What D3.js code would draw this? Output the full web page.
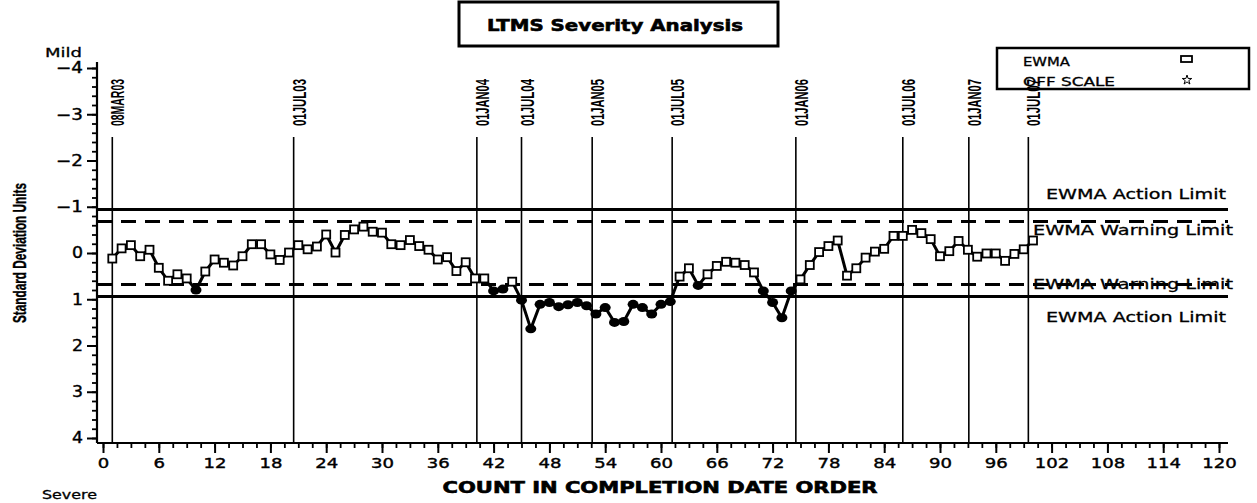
<!DOCTYPE html>
<html>
<head>
<meta charset="utf-8">
<script src="https://cdn.jsdelivr.net/npm/d3@7"></script>
<style>
  body { margin: 0; background: #fff; }
  svg { display: block; }
</style>
</head>
<body>
<div id="chart"></div>
<script>
// EWMA values by count in completion date order (positive = severe side)
const counts = d3.range(1, 101);
const ewma = [
  0.12, -0.10, -0.17, 0.07, -0.07, 0.32, 0.60, 0.46, 0.55, 0.80,
  0.40, 0.14, 0.21, 0.27, 0.07, -0.19, -0.19, 0.03, 0.15, -0.01,
  -0.17, -0.08, -0.14, -0.40, -0.01, -0.39, -0.51, -0.57, -0.46, -0.44,
  -0.19, -0.17, -0.28, -0.15, -0.07, 0.14, 0.09, 0.39, 0.20, 0.55,
  0.55, 0.82, 0.78, 0.62, 1.02, 1.64, 1.11, 1.07, 1.16, 1.12,
  1.07, 1.14, 1.32, 1.18, 1.50, 1.48, 1.11, 1.18, 1.32, 1.11,
  1.05, 0.51, 0.33, 0.70, 0.46, 0.28, 0.19, 0.21, 0.26, 0.42,
  0.82, 1.07, 1.40, 0.82, 0.57, 0.26, -0.02, -0.15, -0.27, 0.49,
  0.33, 0.10, -0.03, -0.09, -0.37, -0.37, -0.50, -0.43, -0.30, 0.07,
  -0.04, -0.26, -0.07, 0.08, 0.01, 0.01, 0.17, 0.02, -0.08, -0.27
];

// date reference lines
const dateLabels = ["08MAR03", "01JUL03", "01JAN04", "01JUL04", "01JAN05",
                    "01JUL05", "01JAN06", "01JUL06", "01JAN07", "01JUL07"];
const dateCounts = [1, 20.5, 40.2, 45, 52.6, 61.2, 74.5, 86, 93.1, 99.5];

// limits
const limitNames = ["EWMA Action Limit", "EWMA Warning Limit", "EWMA Warning Limit", "EWMA Action Limit"];
const limitValues = [-0.94, -0.68, 0.68, 0.94];

const xTicks = d3.range(0, 121, 6);
const xMinor = d3.range(0, 120.1, 1.5);
const yTicks = d3.range(-4, 5, 1);
const yMinor = d3.range(-4, 4.01, 0.2);

const width = 1257, height = 503;
const font = "'DejaVu Sans', sans-serif";
const narrow = "'Liberation Sans', sans-serif";

const svg = d3.select('#chart').append('svg')
    .attr('width', width)
    .attr('height', height);

const x = d3.scaleLinear().domain([0, 120]).range([103, 1219]);
const y = d3.scaleLinear().domain([-4, 4]).range([68, 438]);

const axisX0 = 97, axisY0 = 443, axisRight = 1228, axisTop = 62;

// title box
svg.append('rect')
    .attr('x', 459).attr('y', 2).attr('width', 319).attr('height', 44)
    .attr('fill', 'none').attr('stroke', '#000').attr('stroke-width', 3);
svg.append('text')
    .attr('x', 615).attr('y', 31)
    .attr('text-anchor', 'middle')
    .attr('font-family', font).attr('font-weight', 900).attr('font-size', 16)
    .attr('stroke', '#000').attr('stroke-width', 0.6)
    .attr('textLength', 256).attr('lengthAdjust', 'spacingAndGlyphs')
    .text('LTMS Severity Analysis');

// legend
svg.append('rect')
    .attr('x', 997).attr('y', 48).attr('width', 252).attr('height', 41)
    .attr('fill', 'none').attr('stroke', '#000').attr('stroke-width', 2.5);
svg.append('text')
    .attr('x', 1023).attr('y', 66)
    .attr('font-family', font).attr('font-size', 12)
    .attr('stroke', '#000').attr('stroke-width', 0.3)
    .attr('textLength', 47).attr('lengthAdjust', 'spacingAndGlyphs')
    .text('EWMA');
svg.append('text')
    .attr('x', 1023).attr('y', 86)
    .attr('font-family', font).attr('font-size', 12)
    .attr('stroke', '#000').attr('stroke-width', 0.3)
    .attr('textLength', 92).attr('lengthAdjust', 'spacingAndGlyphs')
    .text('OFF SCALE');
svg.append('rect')
    .attr('x', 1181).attr('y', 56).attr('width', 11).attr('height', 6)
    .attr('fill', '#fff').attr('stroke', '#000').attr('stroke-width', 1.8);
svg.append('path')
    .attr('transform', 'translate(1187,80)')
    .attr('d', d3.symbol(d3.symbolStar, 28)())
    .attr('fill', 'none').attr('stroke', '#000').attr('stroke-width', 1);

// limit lines
svg.append('g')
    .selectAll('line')
    .data(limitValues)
    .join('line')
    .attr('x1', axisX0).attr('x2', axisRight)
    .attr('y1', d => y(d)).attr('y2', d => y(d))
    .attr('stroke', '#000').attr('stroke-width', 3)
    .attr('stroke-dasharray', (d, i) => (i === 1 || i === 2) ? '15,9' : null);

const limitLabelX = [1046, 1033, 1033, 1046];
const limitLabelDy = [-11, 13, 5, 26];
const limitLabelW = [180, 200, 200, 180];
svg.append('g')
    .selectAll('text')
    .data(limitValues)
    .join('text')
    .attr('x', (d, i) => limitLabelX[i])
    .attr('y', (d, i) => y(d) + limitLabelDy[i])
    .attr('font-family', font).attr('font-size', 14)
    .attr('stroke', '#000').attr('stroke-width', 0.3)
    .attr('textLength', (d, i) => limitLabelW[i]).attr('lengthAdjust', 'spacingAndGlyphs')
    .text((d, i) => limitNames[i]);

// date reference lines
svg.append('g')
    .selectAll('line')
    .data(dateCounts)
    .join('line')
    .attr('x1', d => x(d)).attr('x2', d => x(d))
    .attr('y1', 137).attr('y2', axisY0)
    .attr('stroke', '#000').attr('stroke-width', 1.6);

svg.append('g')
    .selectAll('text')
    .data(dateCounts)
    .join('text')
    .attr('transform', d => `translate(${x(d) + 12},126) rotate(-90)`)
    .attr('font-family', narrow).attr('font-weight', 'bold')
    .attr('font-size', 18)
    .attr('textLength', 47).attr('lengthAdjust', 'spacingAndGlyphs')
    .text((d, i) => dateLabels[i]);

// y axis
const yMinorAxis = d3.axisLeft(y).tickValues(yMinor).tickSize(5).tickFormat('');
svg.append('g')
    .attr('transform', `translate(${axisX0},0)`)
    .call(yMinorAxis)
    .call(g => g.select('.domain').remove())
    .call(g => g.selectAll('line').attr('stroke-width', 1.8));

const yAxis = d3.axisLeft(y).tickValues(yTicks).tickSize(10).tickPadding(4)
    .tickFormat(d => d < 0 ? '\u2212' + Math.abs(d) : String(d));
svg.append('g')
    .attr('transform', `translate(${axisX0},0)`)
    .call(yAxis)
    .call(g => g.select('.domain').remove())
    .call(g => g.selectAll('line').attr('stroke-width', 2))
    .call(g => g.selectAll('text')
        .attr('font-family', font).attr('font-size', 15).attr('fill', '#000')
        .attr('stroke', '#000').attr('stroke-width', 0.4)
        .attr('textLength', d => d < 0 ? 27 : 11).attr('lengthAdjust', 'spacingAndGlyphs'));

svg.append('line')
    .attr('x1', axisX0).attr('x2', axisX0)
    .attr('y1', axisTop).attr('y2', axisY0)
    .attr('stroke', '#000').attr('stroke-width', 2.2);

// x axis
const xMinorAxis = d3.axisBottom(x).tickValues(xMinor).tickSize(5).tickFormat('');
svg.append('g')
    .attr('transform', `translate(0,${axisY0})`)
    .call(xMinorAxis)
    .call(g => g.select('.domain').remove())
    .call(g => g.selectAll('line').attr('stroke-width', 1.8));

const xAxis = d3.axisBottom(x).tickValues(xTicks).tickSize(10).tickPadding(5);
svg.append('g')
    .attr('transform', `translate(0,${axisY0})`)
    .call(xAxis)
    .call(g => g.select('.domain').remove())
    .call(g => g.selectAll('line').attr('stroke-width', 2))
    .call(g => g.selectAll('text')
        .attr('font-family', font).attr('font-size', 14).attr('fill', '#000')
        .attr('stroke', '#000').attr('stroke-width', 0.4)
        .attr('textLength', d => String(d).length * 11.5).attr('lengthAdjust', 'spacingAndGlyphs'));

svg.append('line')
    .attr('x1', axisX0).attr('x2', axisRight)
    .attr('y1', axisY0).attr('y2', axisY0)
    .attr('stroke', '#000').attr('stroke-width', 2.2);

// axis titles
svg.append('text')
    .attr('x', 660).attr('y', 493)
    .attr('text-anchor', 'middle')
    .attr('font-family', font).attr('font-weight', 900).attr('font-size', 15)
    .attr('stroke', '#000').attr('stroke-width', 0.6)
    .attr('textLength', 435).attr('lengthAdjust', 'spacingAndGlyphs')
    .text('COUNT IN COMPLETION DATE ORDER');

svg.append('text')
    .attr('transform', 'translate(26,253) rotate(-90)')
    .attr('text-anchor', 'middle')
    .attr('font-family', narrow).attr('font-weight', 'bold').attr('font-size', 18)
    .attr('stroke', '#000').attr('stroke-width', 0.4)
    .attr('textLength', 140).attr('lengthAdjust', 'spacingAndGlyphs')
    .text('Standard Deviation Units');

svg.append('text')
    .attr('x', 45).attr('y', 57)
    .attr('font-family', font).attr('font-size', 13)
    .attr('stroke', '#000').attr('stroke-width', 0.3)
    .attr('textLength', 37).attr('lengthAdjust', 'spacingAndGlyphs')
    .text('Mild');

svg.append('text')
    .attr('x', 42).attr('y', 499)
    .attr('font-family', font).attr('font-size', 12)
    .attr('stroke', '#000').attr('stroke-width', 0.3)
    .attr('textLength', 55).attr('lengthAdjust', 'spacingAndGlyphs')
    .text('Severe');

// EWMA series
const points = counts.map((c, i) => ({count: c, value: ewma[i]}));

const line = d3.line()
    .x(d => x(d.count))
    .y(d => y(d.value));

svg.append('path')
    .datum(points)
    .attr('d', line)
    .attr('fill', 'none')
    .attr('stroke', '#000')
    .attr('stroke-width', 3)
    .attr('stroke-linejoin', 'round');

const warnLimit = limitValues[2];

svg.append('g')
    .selectAll('rect')
    .data(points.filter(d => d.value <= warnLimit))
    .join('rect')
    .attr('x', d => x(d.count) - 4)
    .attr('y', d => y(d.value) - 4)
    .attr('width', 8).attr('height', 8)
    .attr('fill', '#fff')
    .attr('stroke', '#000')
    .attr('stroke-width', 1.8);

svg.append('g')
    .selectAll('ellipse')
    .data(points.filter(d => d.value > warnLimit))
    .join('ellipse')
    .attr('cx', d => x(d.count))
    .attr('cy', d => y(d.value))
    .attr('rx', 5.5).attr('ry', 4.5)
    .attr('fill', '#000');
</script>
</body>
</html>
